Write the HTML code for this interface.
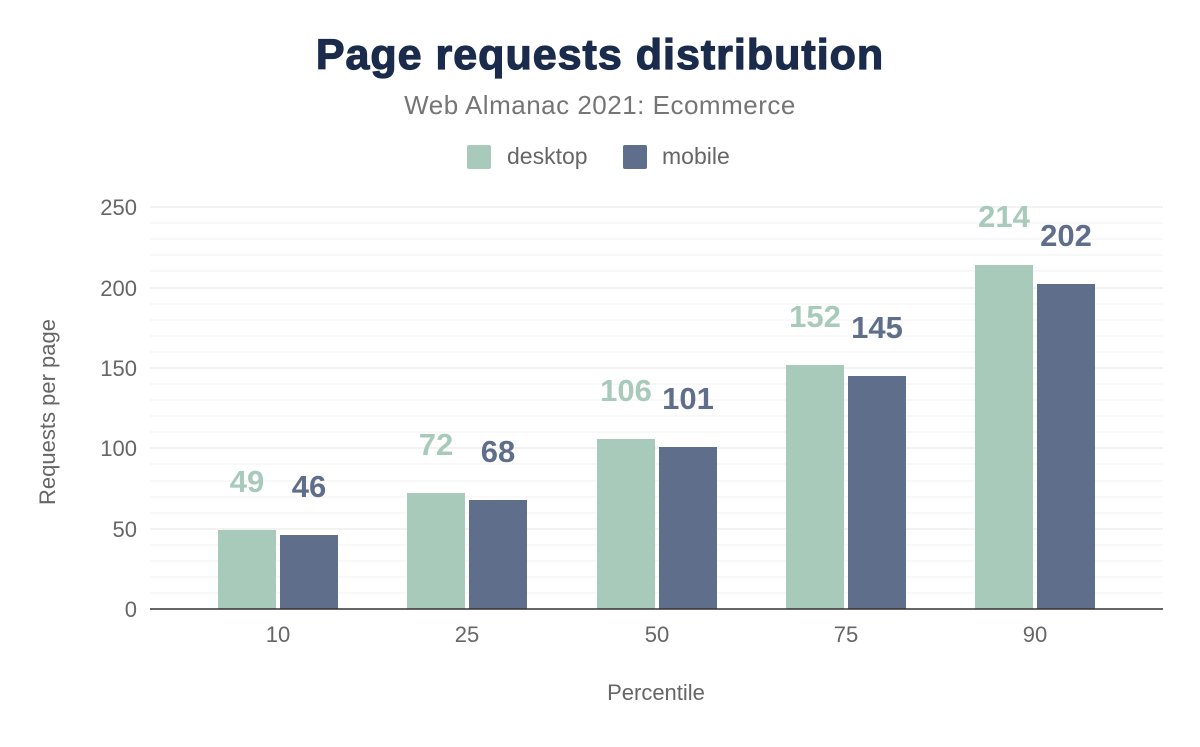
<!DOCTYPE html>
<html><head><meta charset="utf-8"><style>
body{margin:0;background:#fff;}
svg text{font-family:"Liberation Sans",Arial,sans-serif;}
</style></head><body>
<svg width="1200" height="742" viewBox="0 0 1200 742" xmlns="http://www.w3.org/2000/svg">
<rect width="1200" height="742" fill="#fff"/>
<text x="600" y="69" text-anchor="middle" font-size="43" font-weight="bold" fill="#1a2b4c" stroke="#1a2b4c" stroke-width="1.2" letter-spacing="1">Page requests distribution</text>
<text x="600" y="114" text-anchor="middle" font-size="26" fill="#757575" letter-spacing="0.5">Web Almanac 2021: Ecommerce</text>
<rect x="467" y="145" width="24" height="24" rx="2" fill="#a8cabb"/>
<text x="507" y="164" font-size="23" fill="#666">desktop</text>
<rect x="623" y="145" width="24" height="24" rx="2" fill="#5f6e8a"/>
<text x="662" y="164" font-size="23" fill="#666">mobile</text>
<g stroke="#f2f2f2" stroke-width="1">
<line x1="150" x2="1163" y1="593" y2="593"/><line x1="150" x2="1163" y1="577" y2="577"/><line x1="150" x2="1163" y1="561" y2="561"/><line x1="150" x2="1163" y1="545" y2="545"/>
<line x1="150" x2="1163" y1="513" y2="513"/><line x1="150" x2="1163" y1="497" y2="497"/><line x1="150" x2="1163" y1="481" y2="481"/><line x1="150" x2="1163" y1="464" y2="464"/>
<line x1="150" x2="1163" y1="432" y2="432"/><line x1="150" x2="1163" y1="416" y2="416"/><line x1="150" x2="1163" y1="400" y2="400"/><line x1="150" x2="1163" y1="384" y2="384"/>
<line x1="150" x2="1163" y1="352" y2="352"/><line x1="150" x2="1163" y1="336" y2="336"/><line x1="150" x2="1163" y1="320" y2="320"/><line x1="150" x2="1163" y1="304" y2="304"/>
<line x1="150" x2="1163" y1="271" y2="271"/><line x1="150" x2="1163" y1="255" y2="255"/><line x1="150" x2="1163" y1="239" y2="239"/><line x1="150" x2="1163" y1="223" y2="223"/>
</g>
<g stroke="#e6e6e6" stroke-width="1">
<line x1="150" x2="1163" y1="529" y2="529"/><line x1="150" x2="1163" y1="448" y2="448"/><line x1="150" x2="1163" y1="368" y2="368"/><line x1="150" x2="1163" y1="288" y2="288"/><line x1="150" x2="1163" y1="207" y2="207"/>
</g>
<g font-size="22" fill="#666" text-anchor="end">
<text x="137" y="617">0</text><text x="137" y="537">50</text><text x="137" y="456">100</text><text x="137" y="376">150</text><text x="137" y="296">200</text><text x="137" y="215">250</text>
</g>
<text transform="translate(55,412) rotate(-90)" text-anchor="middle" font-size="22" fill="#666">Requests per page</text>
<g>
<rect x="218" y="530" width="58" height="79" fill="#a8cabb"/><rect x="280" y="535" width="58" height="74" fill="#5f6e8a"/>
<rect x="407" y="493" width="58" height="116" fill="#a8cabb"/><rect x="469" y="500" width="58" height="109" fill="#5f6e8a"/>
<rect x="597" y="439" width="58" height="170" fill="#a8cabb"/><rect x="659" y="447" width="58" height="162" fill="#5f6e8a"/>
<rect x="786" y="365" width="58" height="244" fill="#a8cabb"/><rect x="848" y="376" width="58" height="233" fill="#5f6e8a"/>
<rect x="975" y="265" width="58" height="344" fill="#a8cabb"/><rect x="1037" y="284" width="58" height="325" fill="#5f6e8a"/>
</g>
<line x1="150" x2="1163" y1="609" y2="609" stroke="#333" stroke-width="1.5"/>
<g font-size="31" font-weight="bold" text-anchor="middle">
<text x="247" y="492" fill="#a8cabb">49</text><text x="309" y="497" fill="#5f6e8a">46</text>
<text x="436" y="455" fill="#a8cabb">72</text><text x="498" y="462" fill="#5f6e8a">68</text>
<text x="626" y="401" fill="#a8cabb">106</text><text x="688" y="409" fill="#5f6e8a">101</text>
<text x="815" y="327" fill="#a8cabb">152</text><text x="877" y="338" fill="#5f6e8a">145</text>
<text x="1004" y="227" fill="#a8cabb">214</text><text x="1066" y="246" fill="#5f6e8a">202</text>
</g>
<g font-size="22" fill="#666" text-anchor="middle">
<text x="278" y="642">10</text><text x="467" y="642">25</text><text x="657" y="642">50</text><text x="846" y="642">75</text><text x="1035" y="642">90</text>
</g>
<text x="656" y="700" text-anchor="middle" font-size="22" fill="#666">Percentile</text>
</svg>
</body></html>
